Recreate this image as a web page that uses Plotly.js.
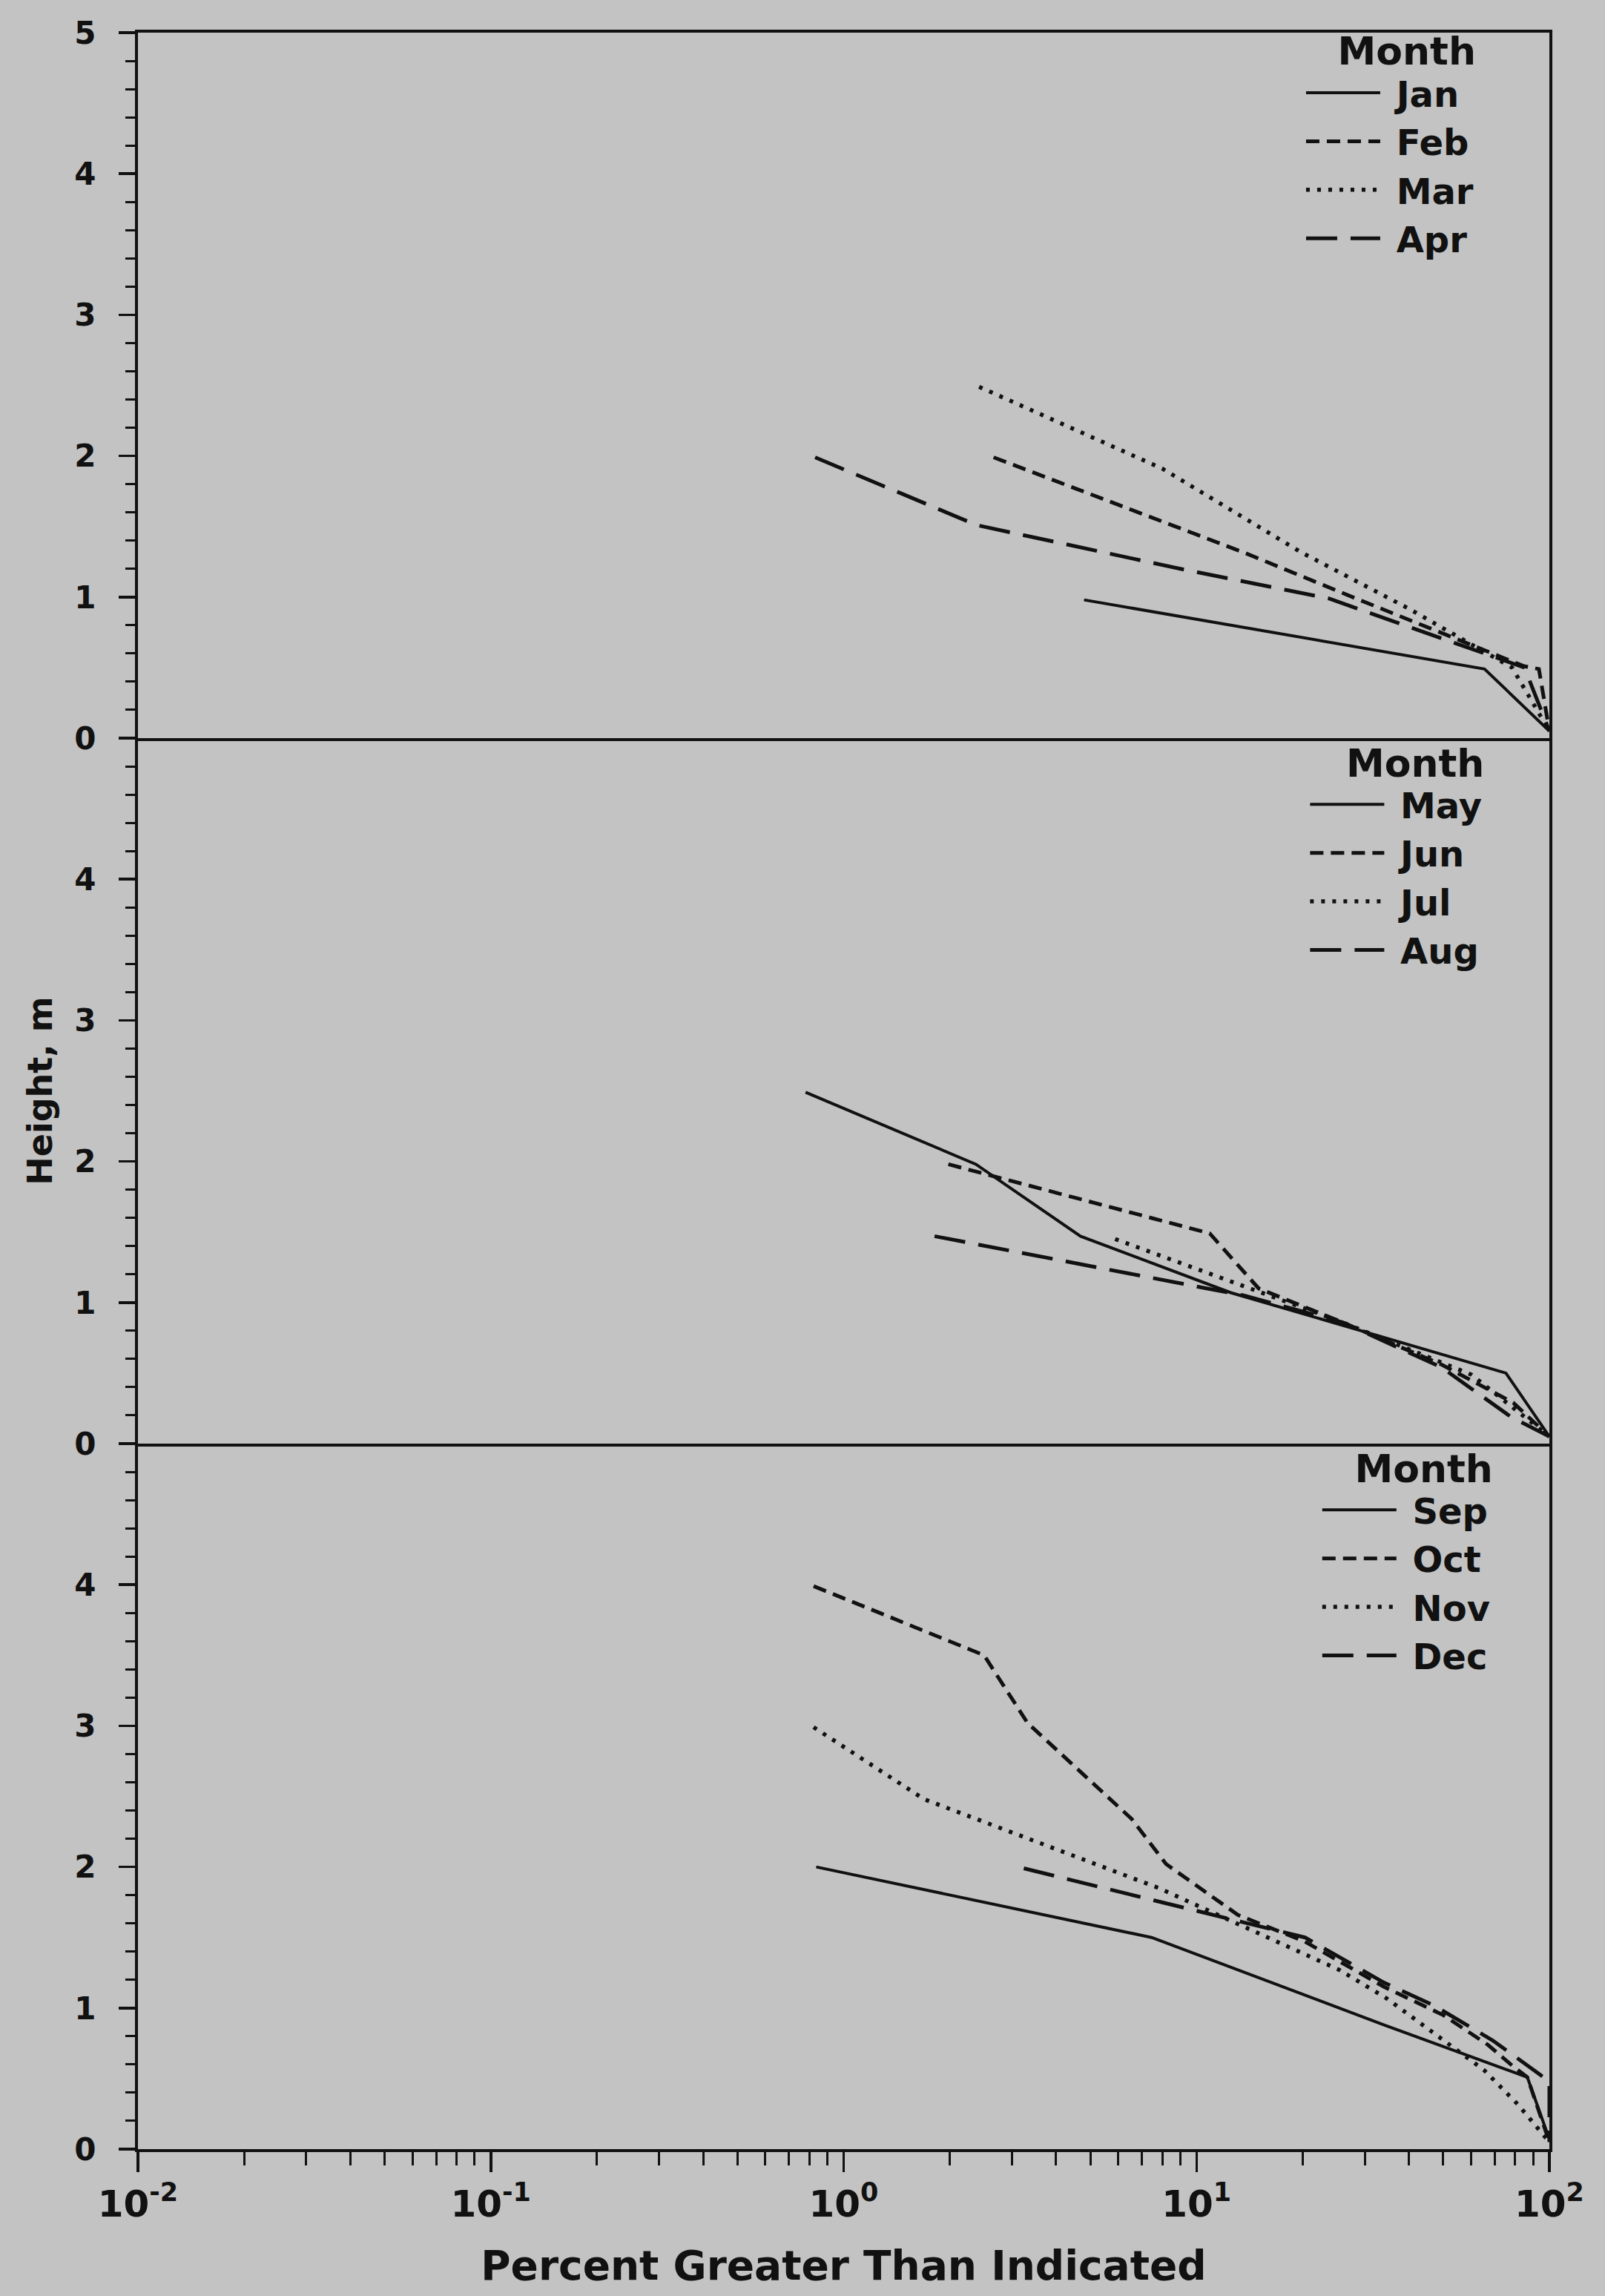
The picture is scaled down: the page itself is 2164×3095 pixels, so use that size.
<!DOCTYPE html>
<html>
<head>
<meta charset="utf-8">
<script src="https://cdn.plot.ly/plotly-3.0.1.min.js"></script>
<style>
  html, body { margin: 0; padding: 0; background: #c3c3c3; }
  #chart { width: 2164px; height: 3095px; }
</style>
</head>
<body>
<div id="chart"></div>
<script>
// ---------- data (percent greater than indicated, height in m) ----------
// Panel 1: Jan - Apr
const janPct = [4.8, 65.5, 100];
const janHt  = [0.98, 0.49, 0.05];
const febPct = [2.66, 13.8, 28.3, 84.8, 93.4, 100];
const febHt  = [1.99, 1.31, 0.99, 0.51, 0.49, 0.05];
const marPct = [2.42, 8.0, 19.7, 39.8, 78.4, 100];
const marHt  = [2.49, 1.91, 1.32, 0.92, 0.50, 0.05];
const aprPct = [0.83, 2.38, 9.0, 23.7, 85, 100];
const aprHt  = [1.99, 1.51, 1.20, 0.99, 0.50, 0.05];

// Panel 2: May - Aug
const mayPct = [0.78, 2.37, 4.69, 12.5, 75.3, 100];
const mayHt  = [2.49, 1.98, 1.47, 1.07, 0.50, 0.05];
const junPct = [1.98, 10.9, 15.0, 25.9, 49.5, 79.0, 100];
const junHt  = [1.98, 1.49, 1.10, 0.86, 0.56, 0.29, 0.05];
const julPct = [5.88, 14.5, 25.9, 60.0, 100];
const julHt  = [1.45, 1.09, 0.86, 0.49, 0.05];
const augPct = [1.81, 13.6, 25.9, 49.5, 77.8, 100];
const augHt  = [1.47, 1.05, 0.86, 0.54, 0.19, 0.05];

// Panel 3: Sep - Dec
const sepPct = [0.836, 7.46, 34, 86.6, 100];
const sepHt  = [2.00, 1.50, 0.88, 0.51, 0.07];
const octPct = [0.822, 2.50, 3.32, 6.55, 8.2, 13.1, 20.3, 34, 50, 66.9, 78.6, 86.6, 100];
const octHt  = [3.99, 3.50, 3.02, 2.34, 2.02, 1.66, 1.47, 1.15, 0.95, 0.74, 0.59, 0.51, 0.05];
const novPct = [0.822, 1.69, 7.82, 25.4, 34.5, 65.3, 81.2, 100];
const novHt  = [2.99, 2.48, 1.85, 1.27, 1.07, 0.56, 0.32, 0.05];
const decPct = [3.24, 11.06, 20.3, 34, 46.9, 69.1, 100, 100];
const decHt  = [1.99, 1.66, 1.50, 1.18, 1.02, 0.77, 0.48, 0.05];

const xTickVals = [0.01, 0.1, 1, 10, 100];
const xTickText = ['10<sup>-2</sup>', '10<sup>-1</sup>', '10<sup>0</sup>', '10<sup>1</sup>', '10<sup>2</sup>'];
const yTickTop = [0, 1, 2, 3, 4, 5];
const yTickLower = [0, 1, 2, 3, 4];
const legendTitle = 'Month';
const xTitle = 'Percent Greater Than Indicated';
const yTitle = 'Height, m';

// ---------- styles ----------
const INK = '#111111';
const BG = '#c3c3c3';
const FONT = 'DejaVu Sans';
const GAP = '\u00a0';
const styles = {
  solid: { dash: 'solid', width: 4 },
  short: { dash: '18px,10px', width: 5 },
  dot:   { dash: '5px,10px', width: 5.5 },
  long:  { dash: '42px,18px', width: 5 }
};

function mk(name, x, y, st, ax, leg) {
  return {
    type: 'scatter', mode: 'lines', name: GAP + name, x: x, y: y,
    xaxis: 'x' + (ax === 1 ? '' : ax), yaxis: 'y' + (ax === 1 ? '' : ax),
    legend: leg,
    line: { color: INK, width: styles[st].width, dash: styles[st].dash },
    hoverinfo: 'skip'
  };
}

const traces = [
  mk('Jan', janPct, janHt, 'solid', 3, 'legend'),
  mk('Feb', febPct, febHt, 'short', 3, 'legend'),
  mk('Mar', marPct, marHt, 'dot',   3, 'legend'),
  mk('Apr', aprPct, aprHt, 'long',  3, 'legend'),
  mk('May', mayPct, mayHt, 'solid', 2, 'legend2'),
  mk('Jun', junPct, junHt, 'short', 2, 'legend2'),
  mk('Jul', julPct, julHt, 'dot',   2, 'legend2'),
  mk('Aug', augPct, augHt, 'long',  2, 'legend2'),
  mk('Sep', sepPct, sepHt, 'solid', 1, 'legend3'),
  mk('Oct', octPct, octHt, 'short', 1, 'legend3'),
  mk('Nov', novPct, novHt, 'dot',   1, 'legend3'),
  mk('Dec', decPct, decHt, 'long',  1, 'legend3')
];

// minor tick positions (axis decoration)
const minorX = [];
[0.01, 0.1, 1, 10].forEach(d => { for (let k = 2; k <= 9; k++) minorX.push(+(d * k).toPrecision(3)); });
const minorY = [];
for (let i = 1; i < 25; i++) { if (i % 5 !== 0) minorY.push(i / 5); }

function yAxis(domain, tickvals, anchor, extra) {
  return Object.assign({
    domain: domain, range: [0, 5], anchor: anchor,
    tickmode: 'array', tickvals: tickvals, ticks: 'outside', ticklen: 22, tickwidth: 3.5, tickcolor: INK,
    ticklabelstandoff: 22,
    showline: true, mirror: true, linewidth: 4, linecolor: INK,
    showgrid: false, zeroline: false,
    tickfont: { family: FONT, size: 42, color: INK, weight: 'bold' },
    minor: { tickvals: minorY, ticks: 'outside', ticklen: 13, tickwidth: 3, tickcolor: INK, showgrid: false }
  }, extra || {});
}

function innerX(anchor, mirror) {
  return {
    domain: [0, 1], anchor: anchor, type: 'log', range: [-2, 2],
    tickmode: 'array', tickvals: [], showticklabels: false, ticks: '',
    showline: true, mirror: mirror, linewidth: 4, linecolor: INK,
    showgrid: false, zeroline: false
  };
}

function legendCfg(xr, ytop) {
  return {
    x: xr, xanchor: 'right', y: ytop, yanchor: 'top',
    bgcolor: 'rgba(0,0,0,0)', borderwidth: 0,
    font: { family: FONT, size: 48, color: INK, weight: 'bold' },
    title: { text: legendTitle, side: 'top right', font: { family: FONT, size: 52, color: INK, weight: 'bold' } },
    itemwidth: 100, tracegroupgap: 0
  };
}

const layout = {
  width: 2164, height: 3095,
  paper_bgcolor: BG, plot_bgcolor: BG,
  margin: { l: 186, r: 75, t: 44, b: 198 },
  font: { family: FONT, color: INK },
  showlegend: true,
  xaxis: {
    domain: [0, 1], anchor: 'y', type: 'log', range: [-2, 2],
    tickmode: 'array', tickvals: xTickVals, ticktext: xTickText,
    ticks: 'outside', ticklen: 27, tickwidth: 3.5, tickcolor: INK,
    showline: true, linewidth: 4, linecolor: INK, showgrid: false, zeroline: false,
    tickfont: { family: FONT, size: 50, color: INK, weight: 'bold' },
    minor: { tickvals: minorX, ticks: 'outside', ticklen: 18, tickwidth: 3, tickcolor: INK, showgrid: false },
    title: { text: xTitle, font: { family: FONT, size: 55, color: INK, weight: 'bold' }, standoff: 36 }
  },
  xaxis2: innerX('y2', false),
  xaxis3: innerX('y3', true),
  yaxis: yAxis([0, 1 / 3], yTickLower, 'x'),
  yaxis2: yAxis([1 / 3, 2 / 3], yTickLower, 'x2', {
    title: { text: yTitle, font: { family: FONT, size: 46, color: INK, weight: 'bold' }, standoff: 16 }
  }),
  yaxis3: yAxis([2 / 3, 1], yTickTop, 'x3'),
  legend: legendCfg(0.949, 1.0085),
  legend2: legendCfg(0.955, 2 / 3 + 0.0056),
  legend3: legendCfg(0.961, 1 / 3 + 0.0056)
};

Plotly.newPlot('chart', traces, layout, { staticPlot: true, displayModeBar: false });
</script>
</body>
</html>
